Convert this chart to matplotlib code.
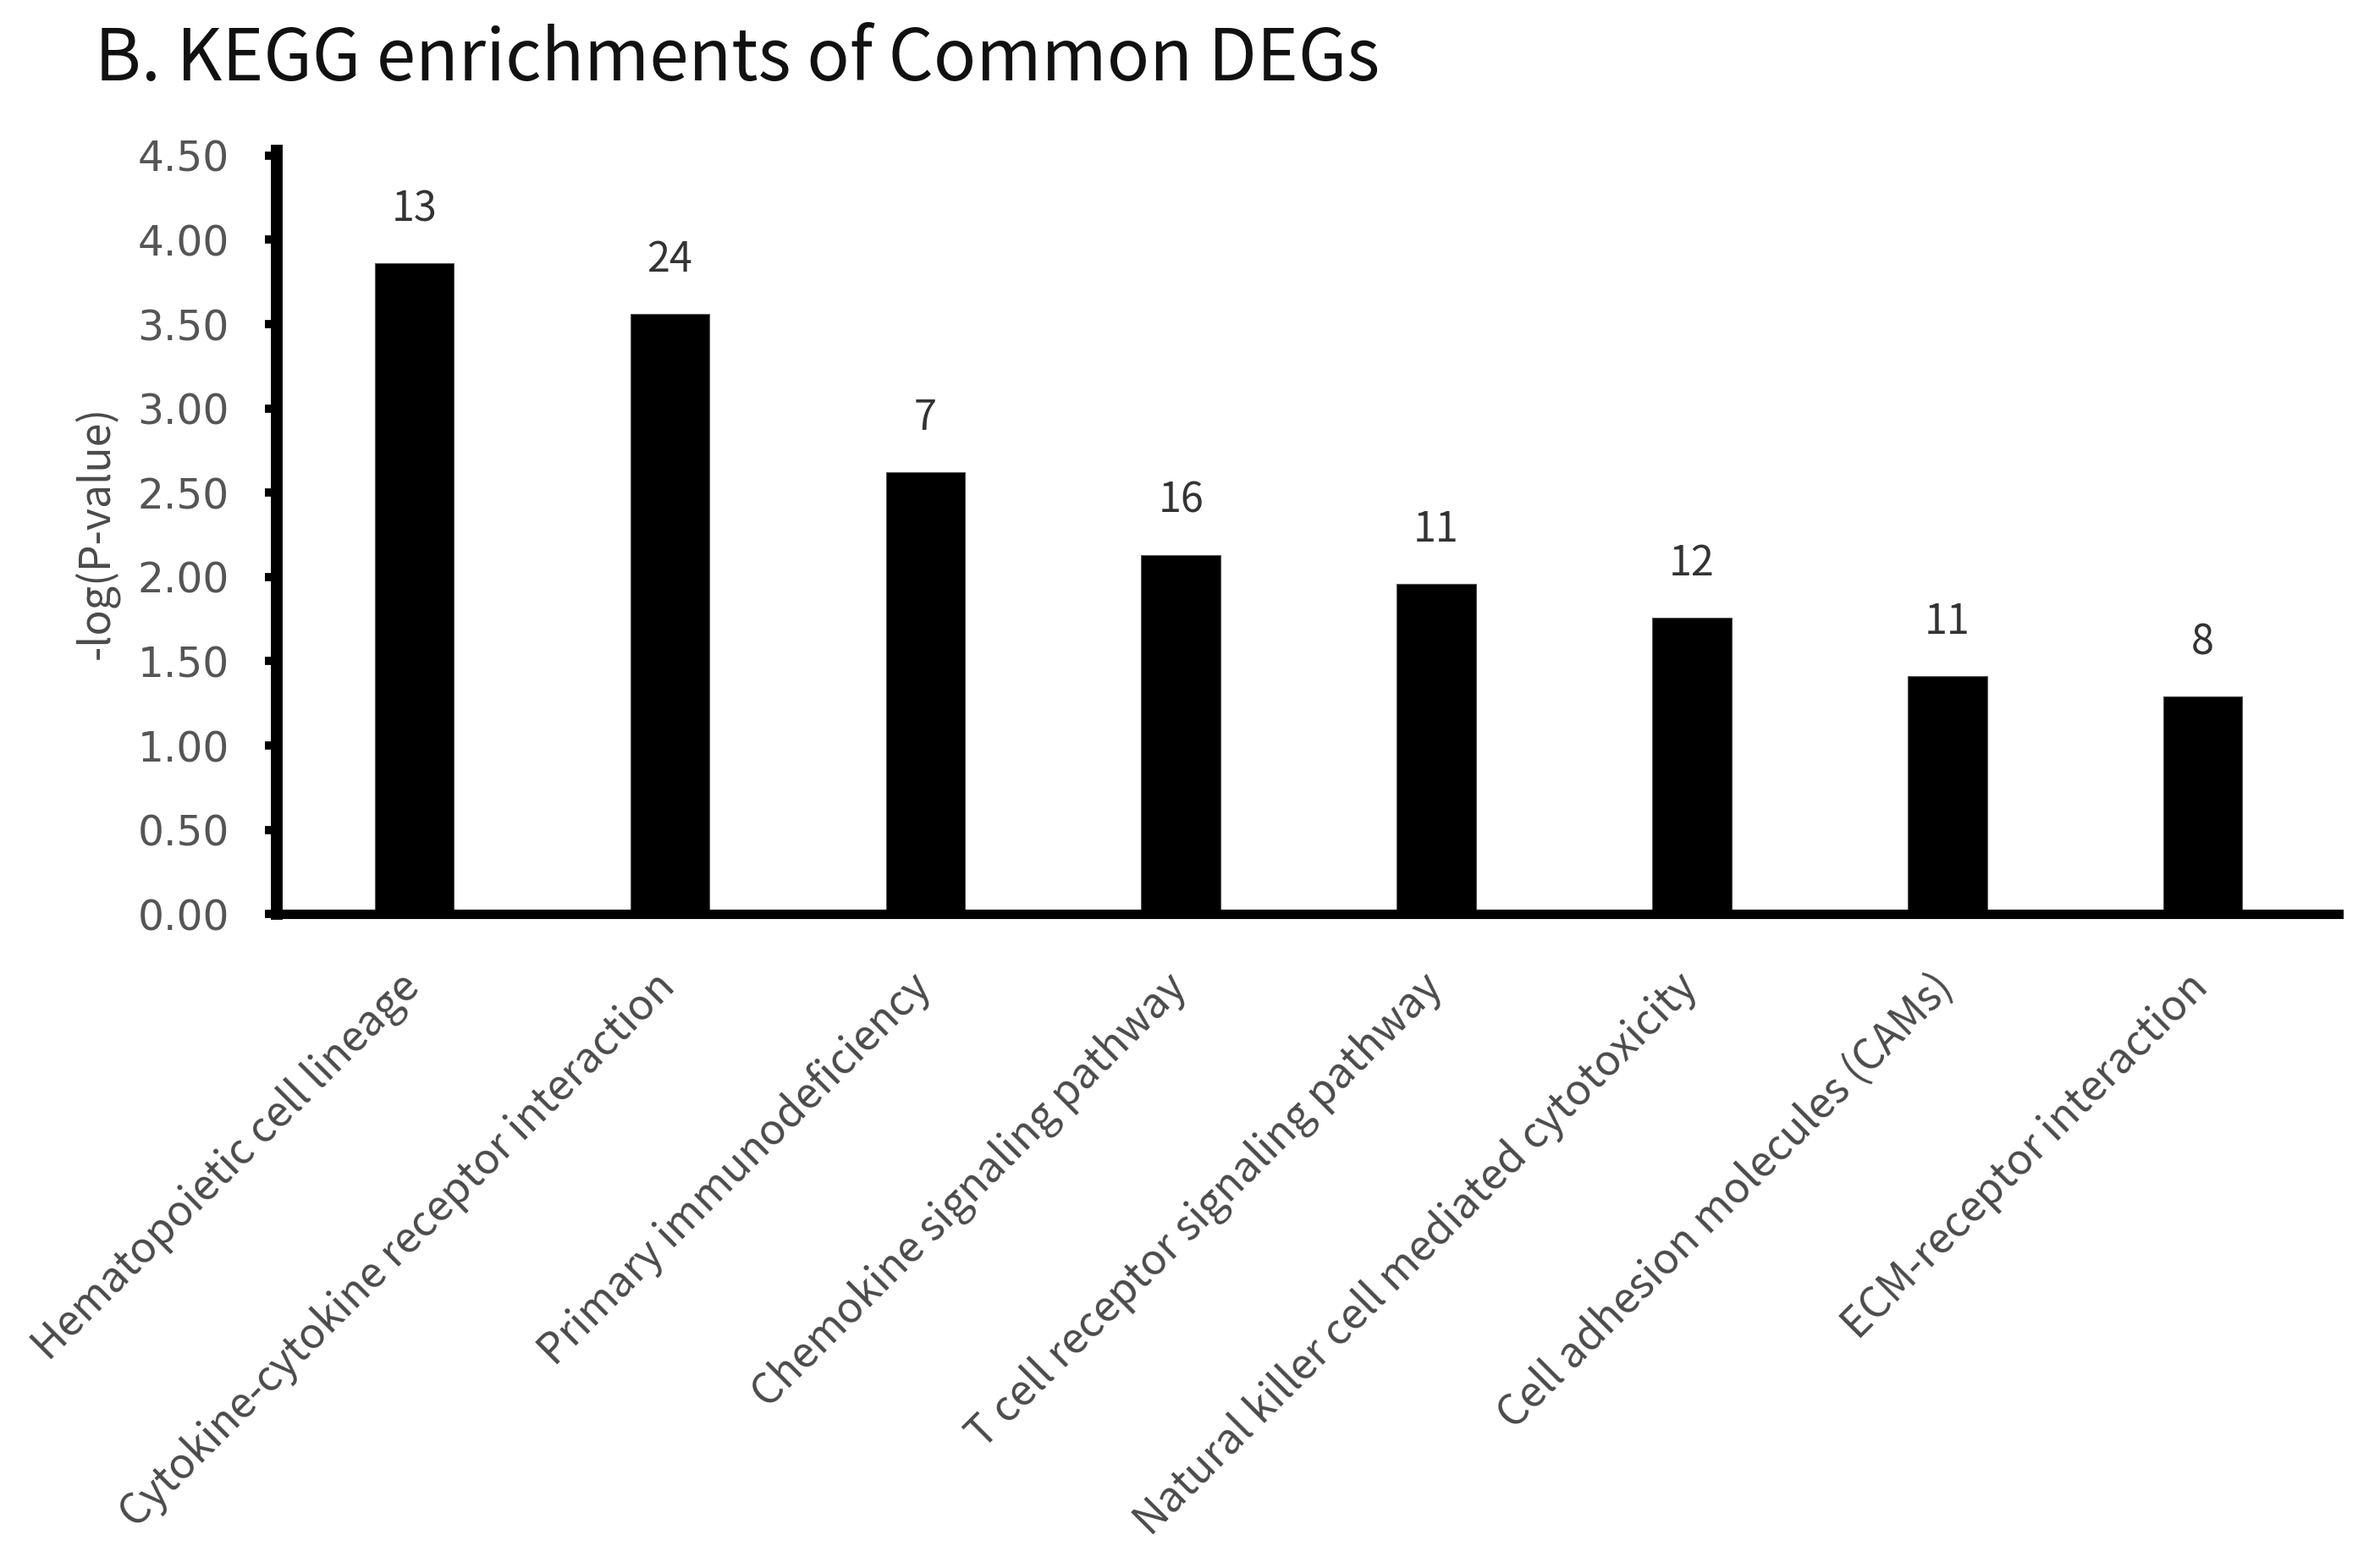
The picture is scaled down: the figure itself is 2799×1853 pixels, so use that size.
import matplotlib
matplotlib.use("Agg")
import matplotlib.pyplot as plt
import matplotlib.transforms as mtransforms
import numpy as np

# KEGG pathways and their enrichment values
pathways = [
    "Hematopoietic cell lineage",
    "Cytokine-cytokine receptor interaction",
    "Primary immunodeficiency",
    "Chemokine signaling pathway",
    "T cell receptor signaling pathway",
    "Natural killer cell mediated cytotoxicity",
    "Cell adhesion molecules (CAMs)",
    "ECM-receptor interaction",
]
neg_log_p = [3.86, 3.56, 2.62, 2.13, 1.96, 1.76, 1.41, 1.29]
gene_counts = [13, 24, 7, 16, 11, 12, 11, 8]
ytick_vals = [0.0, 0.5, 1.0, 1.5, 2.0, 2.5, 3.0, 3.5, 4.0, 4.5]

label_font = ["Noto Sans CJK SC", "DejaVu Sans"]

fig = plt.figure(figsize=(27.99, 18.53), dpi=100)
ax = fig.add_axes([0.1167, 0.417, 0.987 - 0.1167, 0.9037 - 0.417])

x = np.arange(len(pathways))
ax.bar(x, neg_log_p, width=0.31, color="black", edgecolor="#555555", linewidth=0.8, zorder=2)

# gene counts above bars
for xi, v, n in zip(x, neg_log_p, gene_counts):
    ax.annotate(str(n), (xi, v), xytext=(0, 46), textcoords="offset points",
                ha="center", va="center", fontsize=35, color="#333333",
                family=label_font)

ax.set_xlim(-0.54, 7.53)
ax.set_ylim(0, 4.527)
ax.set_yticks(ytick_vals)
ax.set_yticklabels([f"{v:.2f}" for v in ytick_vals], fontsize=35, color="#555555")
ax.set_xticks(x)
ax.set_xticklabels([])
ax.tick_params(axis="x", length=0)
ax.tick_params(axis="y", direction="out", length=10, width=7, pad=30)

# rotated category labels, nudged a bit left/down from the tick position
lab_trans = ax.get_xaxis_transform() + mtransforms.ScaledTranslation(-0.2, -0.6, fig.dpi_scale_trans)
for xi, name in zip(x, pathways):
    ax.text(xi, 0, name, transform=lab_trans, rotation=45, rotation_mode="anchor",
            ha="right", va="top", fontsize=36, color="#4a4a4a", family=label_font)

ax.set_ylabel("-log(P-value)", fontsize=36, color="#4a4a4a", family=label_font, labelpad=16)

for s in ["top", "right"]:
    ax.spines[s].set_visible(False)
ax.spines["left"].set_linewidth(10)
ax.spines["bottom"].set_linewidth(8)

fig.text(0.04, 0.962, "B. KEGG enrichments of Common DEGs", fontsize=60,
         color="#111111", family=label_font, va="center", ha="left")

fig.savefig("out.png", dpi=100, facecolor="white")
